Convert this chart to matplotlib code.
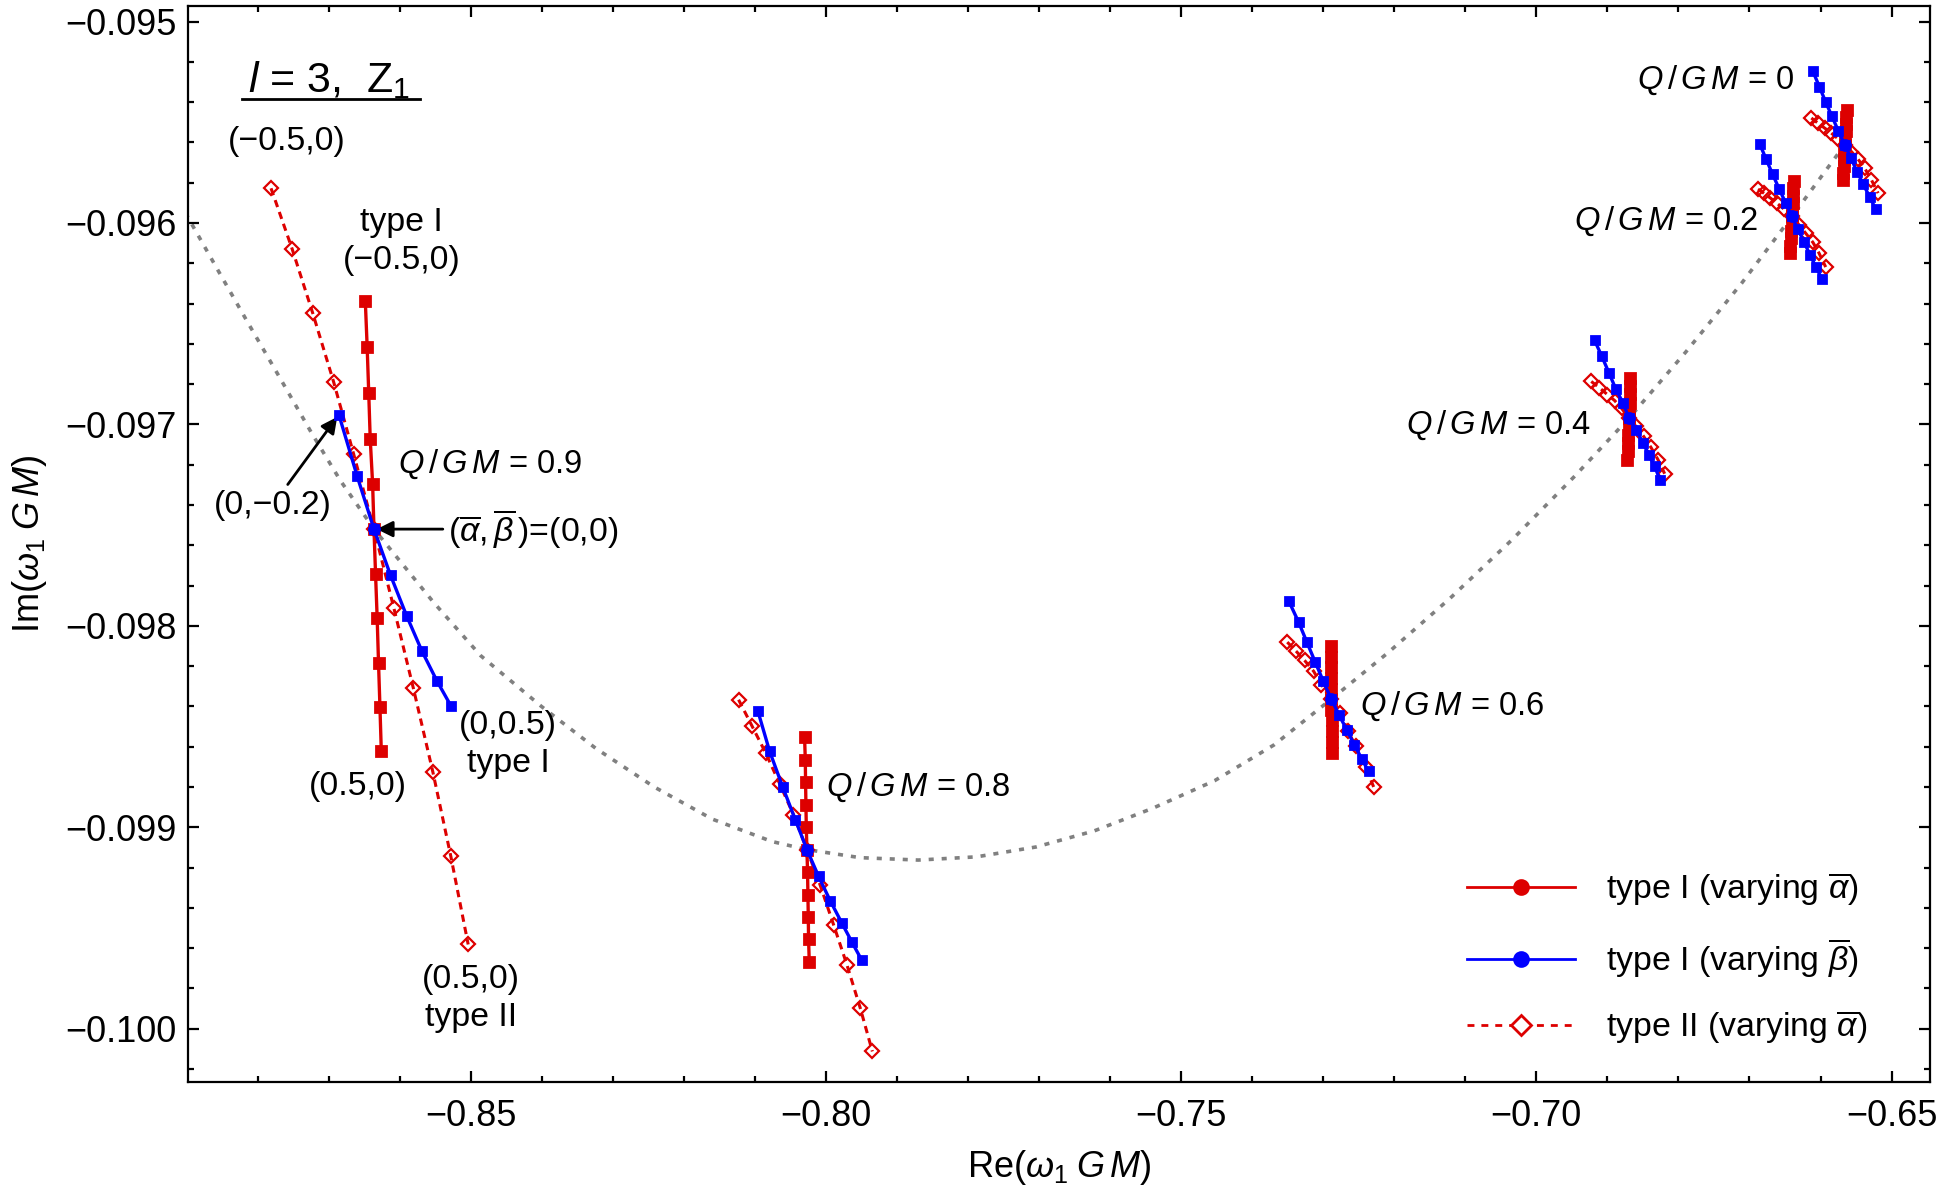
import numpy as np
import matplotlib
matplotlib.use("Agg")
import matplotlib.pyplot as plt
from matplotlib.lines import Line2D
from matplotlib.ticker import MultipleLocator, FuncFormatter

plt.rcParams['font.family'] = ['Liberation Sans', 'DejaVu Sans']
plt.rcParams['mathtext.fontset'] = 'custom'
plt.rcParams['mathtext.rm'] = 'Liberation Sans'
plt.rcParams['mathtext.it'] = 'Liberation Sans:italic'
plt.rcParams['mathtext.bf'] = 'Liberation Sans:bold'

# ---- data: Re and Im of omega_1 GM ----

# type I, varying alpha-bar (-0.5 ... 0.5)
t1a_re_q0 = [-0.65630, -0.65636, -0.65642, -0.65648, -0.65654, -0.65660, -0.65665, -0.65670, -0.65675, -0.65680, -0.65685]
t1a_im_q0 = [-0.095438, -0.095473, -0.095508, -0.095543, -0.095578, -0.095612, -0.095647, -0.095682, -0.095717, -0.095752, -0.095786]
t1a_re_q2 = [-0.66376, -0.66381, -0.66386, -0.66391, -0.66397, -0.66402, -0.66408, -0.66414, -0.66420, -0.66426, -0.66432]
t1a_im_q2 = [-0.095794, -0.095829, -0.095864, -0.095899, -0.095934, -0.095968, -0.096004, -0.096040, -0.096076, -0.096113, -0.096150]
t1a_re_q4 = [-0.68675, -0.68679, -0.68683, -0.68688, -0.68692, -0.68696, -0.68701, -0.68705, -0.68710, -0.68715, -0.68720]
t1a_im_q4 = [-0.096770, -0.096811, -0.096851, -0.096892, -0.096932, -0.096969, -0.097011, -0.097052, -0.097093, -0.097134, -0.097175]
t1a_re_q6 = [-0.72893, -0.72892, -0.72890, -0.72889, -0.72887, -0.72886, -0.72885, -0.72883, -0.72882, -0.72880, -0.72879]
t1a_im_q6 = [-0.098102, -0.098155, -0.098205, -0.098259, -0.098312, -0.098364, -0.098417, -0.098470, -0.098524, -0.098577, -0.098631]
t1a_re_q8 = [-0.80300, -0.80290, -0.80286, -0.80281, -0.80276, -0.80267, -0.80258, -0.80253, -0.80248, -0.80244, -0.80234]
t1a_im_q8 = [-0.098554, -0.098665, -0.098777, -0.098888, -0.098999, -0.099111, -0.099224, -0.099335, -0.099446, -0.099556, -0.099669]
t1a_re_q9 = [-0.86483, -0.86457, -0.86435, -0.86414, -0.86380, -0.86361, -0.86339, -0.86316, -0.86297, -0.86277, -0.86258]
t1a_im_q9 = [-0.096388, -0.096615, -0.096843, -0.097071, -0.097297, -0.097520, -0.097742, -0.097963, -0.098185, -0.098403, -0.098623]

# type I, varying beta-bar
t1b_re_q0 = [-0.66106, -0.66016, -0.65928, -0.65839, -0.65749, -0.65660, -0.65571, -0.65487, -0.65396, -0.65309, -0.65223]
t1b_im_q0 = [-0.095248, -0.095324, -0.095399, -0.095471, -0.095543, -0.095612, -0.095678, -0.095745, -0.095809, -0.095871, -0.095931]
t1b_re_q2 = [-0.66857, -0.66766, -0.66675, -0.66583, -0.66492, -0.66402, -0.66318, -0.66232, -0.66148, -0.66065, -0.65979]
t1b_im_q2 = [-0.095607, -0.095683, -0.095758, -0.095830, -0.095900, -0.095968, -0.096032, -0.096095, -0.096158, -0.096219, -0.096279]
t1b_re_q4 = [-0.69180, -0.69077, -0.68977, -0.68883, -0.68780, -0.68696, -0.68592, -0.68499, -0.68415, -0.68335, -0.68255]
t1b_im_q4 = [-0.096583, -0.096663, -0.096745, -0.096823, -0.096894, -0.096969, -0.097026, -0.097093, -0.097151, -0.097209, -0.097278]
t1b_re_q6 = [-0.73482, -0.73346, -0.73229, -0.73110, -0.72998, -0.72886, -0.72778, -0.72670, -0.72562, -0.72459, -0.72361]
t1b_im_q6 = [-0.097879, -0.097982, -0.098082, -0.098182, -0.098276, -0.098364, -0.098441, -0.098516, -0.098590, -0.098660, -0.098723]
t1b_re_q8 = [-0.80956, -0.80792, -0.80606, -0.80431, -0.80267, -0.80103, -0.79939, -0.79775, -0.79634, -0.79494]
t1b_im_q8 = [-0.098425, -0.098623, -0.098802, -0.098962, -0.099111, -0.099244, -0.099365, -0.099476, -0.099570, -0.099661]
t1b_re_q9 = [-0.86855, -0.86597, -0.86361, -0.86127, -0.85902, -0.85688, -0.85476, -0.85274]
t1b_im_q9 = [-0.096952, -0.097258, -0.097520, -0.097750, -0.097950, -0.098124, -0.098273, -0.098400]

# type II, varying alpha-bar
t2a_re_q0 = [-0.66129, -0.66035, -0.65942, -0.65848, -0.65754, -0.65660, -0.65565, -0.65473, -0.65379, -0.65284, -0.65190]
t2a_im_q0 = [-0.095479, -0.095505, -0.095529, -0.095554, -0.095582, -0.095612, -0.095646, -0.095683, -0.095728, -0.095786, -0.095852]
t2a_re_q2 = [-0.66880, -0.66799, -0.66707, -0.66613, -0.66515, -0.66402, -0.66304, -0.66209, -0.66106, -0.66021, -0.65927]
t2a_im_q2 = [-0.095832, -0.095852, -0.095876, -0.095902, -0.095931, -0.095968, -0.096009, -0.096051, -0.096097, -0.096150, -0.096219]
t2a_re_q4 = [-0.69227, -0.69113, -0.69000, -0.68897, -0.68799, -0.68696, -0.68592, -0.68489, -0.68387, -0.68288, -0.68194]
t2a_im_q4 = [-0.096787, -0.096818, -0.096852, -0.096882, -0.096921, -0.096969, -0.097010, -0.097060, -0.097114, -0.097175, -0.097245]
t2a_re_q6 = [-0.73506, -0.73379, -0.73262, -0.73134, -0.73026, -0.72886, -0.72759, -0.72651, -0.72543, -0.72403, -0.72290]
t2a_im_q6 = [-0.098081, -0.098127, -0.098172, -0.098226, -0.098292, -0.098364, -0.098433, -0.098521, -0.098599, -0.098701, -0.098800]
t2a_re_q8 = [-0.81229, -0.81042, -0.80848, -0.80651, -0.80456, -0.80267, -0.80079, -0.79892, -0.79705, -0.79517, -0.79346]
t2a_im_q8 = [-0.098367, -0.098496, -0.098631, -0.098784, -0.098938, -0.099111, -0.099289, -0.099484, -0.099682, -0.099897, -0.100113]
t2a_re_q9 = [-0.87810, -0.87513, -0.87222, -0.86930, -0.86649, -0.86361, -0.86080, -0.85808, -0.85532, -0.85279, -0.85035]
t2a_im_q9 = [-0.095828, -0.096129, -0.096449, -0.096788, -0.097145, -0.097520, -0.097914, -0.098308, -0.098726, -0.099145, -0.099582]

# Reissner-Nordstrom curve (alpha = beta = 0) as Q/GM runs
rn_re = [-0.89014, -0.88578, -0.88141, -0.87705, -0.87234, -0.86832, -0.86361, -0.85524,
         -0.84860, -0.84005, -0.83237, -0.82417, -0.81597, -0.80759, -0.80267, -0.79520,
         -0.78700, -0.77880, -0.77042, -0.76222, -0.75401, -0.74529, -0.73691, -0.72886,
         -0.72086, -0.71213, -0.70340, -0.69468, -0.68696, -0.67897, -0.67112, -0.66402, -0.65660]
rn_im = [-0.095951, -0.096222, -0.096492, -0.096757, -0.097046, -0.097280, -0.097520, -0.097883,
         -0.098148, -0.098400, -0.098609, -0.098800, -0.098960, -0.099071, -0.099111, -0.099151,
         -0.099163, -0.099147, -0.099098, -0.099018, -0.098906, -0.098769, -0.098591, -0.098364,
         -0.098133, -0.097863, -0.097572, -0.097260, -0.096969, -0.096641, -0.096300, -0.095968, -0.095612]

q_labels = ['0', '0.2', '0.4', '0.6', '0.8', '0.9']
q_label_re = [-0.67478, -0.68176, -0.70532, -0.71178, -0.78700, -0.84721]
q_label_im = [-0.095292, -0.095994, -0.097003, -0.098400, -0.098800, -0.097200]

RED = '#dd0000'
BLUE = '#0000ff'
GRAY = '#808080'


def main():
    fig = plt.figure(figsize=(9.72, 6), dpi=200)
    ax = fig.add_axes([0.0967, 0.0983, 0.8961, 0.8967])

    ax.plot(rn_re, rn_im, color=GRAY, lw=1.3, ls=(0, (1.4, 2.2)), zorder=1)

    groups = [
        (t1a_re_q0, t1a_im_q0, t1b_re_q0, t1b_im_q0, t2a_re_q0, t2a_im_q0),
        (t1a_re_q2, t1a_im_q2, t1b_re_q2, t1b_im_q2, t2a_re_q2, t2a_im_q2),
        (t1a_re_q4, t1a_im_q4, t1b_re_q4, t1b_im_q4, t2a_re_q4, t2a_im_q4),
        (t1a_re_q6, t1a_im_q6, t1b_re_q6, t1b_im_q6, t2a_re_q6, t2a_im_q6),
        (t1a_re_q8, t1a_im_q8, t1b_re_q8, t1b_im_q8, t2a_re_q8, t2a_im_q8),
        (t1a_re_q9, t1a_im_q9, t1b_re_q9, t1b_im_q9, t2a_re_q9, t2a_im_q9),
    ]
    for ar, ai, br, bi, cr, ci in groups:
        ax.plot(cr, ci, color=RED, lw=1.1, ls=(0, (2.4, 1.7)), marker='D', ms=3.6,
                mfc='none', mec=RED, mew=0.8, zorder=2)
        ax.plot(ar, ai, color=RED, lw=1.2, marker='s', ms=3.4, mec=RED, zorder=3)
        ax.plot(br, bi, color=BLUE, lw=1.2, marker='s', ms=3.2, mec=BLUE, zorder=4)
        mid = len(ar) // 2
        ax.plot(ar[mid], ai[mid], 'o', color=BLUE, ms=3.6, zorder=5)

    for lab, x, y in zip(q_labels, q_label_re, q_label_im):
        ax.text(x, y, r'$Q\,/\,G\,M$ = ' + lab, fontsize=11.8, ha='center', va='center')

    # title with underline
    ax.text(-0.8699, -0.095292, r'$l$ = 3,  Z$_1$', fontsize=15.5, ha='center', va='center')
    ax.plot([-0.8822, -0.8572], [-0.095385, -0.095385], color='k', lw=1.0, clip_on=False)

    ax.text(-0.87583, -0.095594, '(\u22120.5,0)', fontsize=12.2, ha='center', va='center')
    ax.text(-0.85977, -0.096092, 'type I\n(\u22120.5,0)', fontsize=12.2, ha='center',
            va='center', linespacing=1.3)
    ax.text(-0.84476, -0.098591, '(0,0.5)\ntype I', fontsize=12.2, ha='center',
            va='center', linespacing=1.3)
    ax.text(-0.86588, -0.098800, '(0.5,0)', fontsize=12.2, ha='center', va='center')
    ax.text(-0.85000, -0.099852, '(0.5,0)\ntype II', fontsize=12.2, ha='center',
            va='center', linespacing=1.3)

    arrow = dict(arrowstyle='-|>', color='k', lw=1.0, mutation_scale=12, shrinkA=0, shrinkB=1)
    ax.annotate('(0,\u22120.2)', xy=(t1b_re_q9[0], t1b_im_q9[0]), xytext=(-0.87792, -0.097403),
                fontsize=12.2, ha='center', va='center', arrowprops=arrow)
    ax.annotate(r'$(\overline{\alpha},\overline{\beta}\,)$=(0,0)', xy=(t1a_re_q9[5], t1a_im_q9[5]),
                xytext=(-0.85314, -0.09752), fontsize=12.2, ha='left', va='center',
                arrowprops=arrow)

    ax.set_xlim(-0.88979, -0.64459)
    ax.set_ylim(-0.100265, -0.094923)

    ax.xaxis.set_major_locator(MultipleLocator(0.05))
    ax.xaxis.set_minor_locator(MultipleLocator(0.01))
    ax.yaxis.set_major_locator(MultipleLocator(0.001))
    ax.yaxis.set_minor_locator(MultipleLocator(0.0002))
    ax.xaxis.set_major_formatter(FuncFormatter(lambda v, p: f'{v:.2f}'.replace('-', '\u2212')))
    ax.yaxis.set_major_formatter(FuncFormatter(lambda v, p: f'{v:.3f}'.replace('-', '\u2212')))
    ax.tick_params(which='both', direction='in', top=True, right=True, width=0.8,
                   labelsize=13)
    ax.tick_params(which='major', length=4)
    ax.tick_params(which='minor', length=2.3)
    ax.tick_params(axis='x', pad=6)
    ax.tick_params(axis='y', pad=4)
    for sp in ax.spines.values():
        sp.set_linewidth(0.8)

    ax.set_xlabel(r'Re$(\omega_1\;G\,M)$', fontsize=13, labelpad=5)
    ax.set_ylabel(r'Im$(\omega_1\;G\,M)$', fontsize=13, labelpad=6)

    handles = [
        Line2D([], [], color=RED, lw=1.0, marker='o', ms=5),
        Line2D([], [], color=BLUE, lw=1.0, marker='o', ms=5),
        Line2D([], [], color=RED, lw=1.0, ls=(0, (2.5, 2.5)), marker='D', ms=5,
               mfc='white', mec=RED, mew=1.0),
    ]
    labels = [r'type I (varying $\overline{\alpha}$)', r'type I (varying $\overline{\beta}$)',
              r'type II (varying $\overline{\alpha}$)']
    ax.legend(handles, labels, loc='lower right', bbox_to_anchor=(0.9815, 0.005), frameon=False,
              fontsize=12.2, handlelength=3.2, labelspacing=0.85, handletextpad=0.9)

    fig.savefig('out.png', dpi=200)


if __name__ == "__main__":
    main()
